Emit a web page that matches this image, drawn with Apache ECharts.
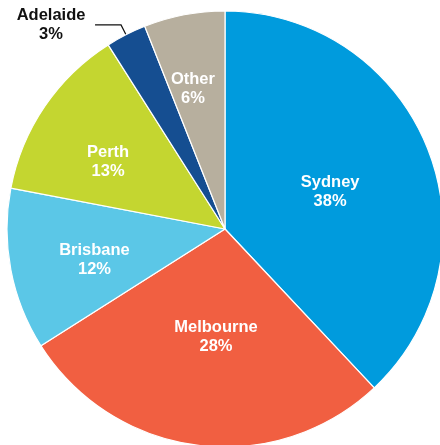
<!DOCTYPE html>
<html>
<head>
<meta charset="utf-8">
<script src="https://cdn.jsdelivr.net/npm/echarts@6/dist/echarts.min.js"></script>
<style>
  html, body { margin: 0; padding: 0; background: #ffffff; }
  #chart { width: 440px; height: 445px; }
</style>
</head>
<body>
<div id="chart"></div>
<script>
// Share of total by city
const cities = ['Sydney', 'Melbourne', 'Brisbane', 'Perth', 'Adelaide', 'Other'];
const shares = [38, 28, 12, 13, 3, 6];

// Slice colours, in city order
const sliceColors = ['#009BDD', '#F15F41', '#5BC7E7', '#C4D630', '#154E91', '#B7AF9E'];

// Which slices carry their label near the hub, further out, or outside with a leader line
const nearLabels = ['Sydney', 'Melbourne'];
const farLabels = ['Brisbane', 'Perth', 'Other'];
const outsideLabels = ['Adelaide'];

// Small nudges for individual labels
const labelNudge = {
  Sydney: [1, 4],
  Melbourne: [5, -3],
  Brisbane: [6, 5],
  Perth: [-2, 11],
  Other: [-6, -4]
};

const CENTER = [225, 229];
const RADIUS = 218;
const FONT = '"Liberation Sans", Arial, Helvetica, sans-serif';

const labelText = p => p.name + '\n' + p.value + '%';

const whiteLabel = name => ({
  show: true,
  position: 'inside',
  color: '#ffffff',
  fontFamily: FONT,
  fontWeight: 'bold',
  fontSize: 16.5,
  lineHeight: 19,
  offset: labelNudge[name] || [0, 0],
  formatter: labelText
});

const mainData = cities.map((name, i) => {
  const item = { name, value: shares[i], itemStyle: { color: sliceColors[i] } };
  if (nearLabels.includes(name)) {
    item.label = whiteLabel(name);
  } else if (outsideLabels.includes(name)) {
    item.label = {
      show: true,
      position: 'outside',
      formatter: p => '{t|' + p.name + '}\n{t|' + p.value + '%}',
      rich: {
        t: {
          width: 72,
          align: 'center',
          color: '#111111',
          fontFamily: FONT,
          fontWeight: 'bold',
          fontSize: 16.5,
          lineHeight: 19
        }
      },
      distanceToLabelLine: 8
    };
    item.labelLine = {
      show: true,
      length: 11,
      length2: 26,
      lineStyle: { color: '#111111', width: 1.2 }
    };
  } else {
    item.label = { show: false };
  }
  return item;
});

// Transparent twin pie, wider, so its inside labels sit further from the hub
const outerLabelData = cities.map((name, i) => {
  const item = { name, value: shares[i] };
  item.label = farLabels.includes(name) ? whiteLabel(name) : { show: false };
  return item;
});

const chart = echarts.init(document.getElementById('chart'), null, { renderer: 'canvas' });
chart.setOption({
  animation: false,
  series: [
    {
      type: 'pie',
      center: CENTER,
      radius: [0, RADIUS],
      startAngle: 90,
      clockwise: true,
      avoidLabelOverlap: false,
      silent: true,
      itemStyle: { borderColor: '#ffffff', borderWidth: 1.2 },
      data: mainData
    },
    {
      type: 'pie',
      center: CENTER,
      radius: [0, 272],
      startAngle: 90,
      clockwise: true,
      avoidLabelOverlap: false,
      silent: true,
      itemStyle: { color: 'rgba(0,0,0,0)', borderWidth: 0 },
      labelLine: { show: false },
      data: outerLabelData
    }
  ]
});
</script>
</body>
</html>
